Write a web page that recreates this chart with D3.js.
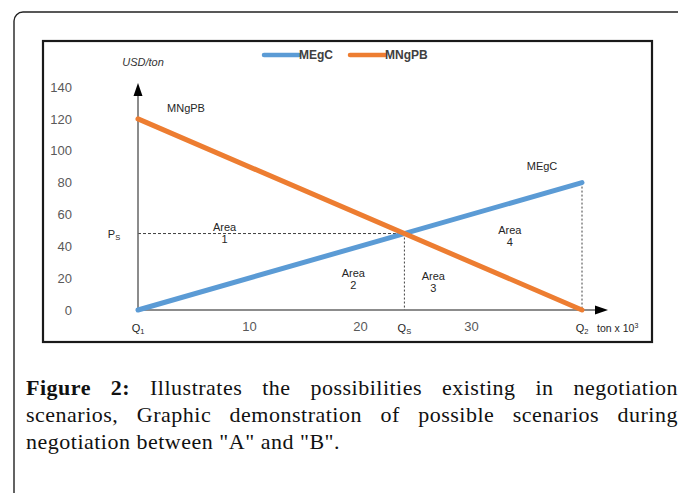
<!DOCTYPE html>
<html>
<head>
<meta charset="utf-8">
<script src="https://cdn.jsdelivr.net/npm/d3@7/dist/d3.min.js"></script>
<style>
  html, body { margin: 0; padding: 0; background: #fff; }
  svg { display: block; }
</style>
</head>
<body>
<svg id="chart" width="678" height="493"></svg>
<script>
// ---------- data ----------
const seriesNames = ["MEgC", "MNgPB"];
const seriesColors = ["#5b9bd5", "#ed7d31"];
const megcX = [0, 40];
const megcY = [0, 80];
const mngpbX = [0, 40];
const mngpbY = [120, 0];
const yTicks = [0, 20, 40, 60, 80, 100, 120, 140];
const xTicks = [10, 20, 30];
const yAxisTitle = "USD/ton";
const xAxisTitle = "ton x 10";
const areaNames = ["Area", "Area", "Area", "Area"];
const areaNums = ["1", "2", "3", "4"];
const areaAtX = [7.8, 19.4, 26.6, 33.5];
const areaAtY = [52, 23.2, 21.3, 50.2];
const captionLines = [
  ["Figure", "2:", "Illustrates", "the", "possibilities", "existing", "in", "negotiation"],
  ["scenarios,", "Graphic", "demonstration", "of", "possible", "scenarios", "during"],
  ["negotiation", "between", "\"A\"", "and", "\"B\"."]
];
const captionBoldWords = 2;

// ---------- layout ----------
const svg = d3.select("#chart");
const x = d3.scaleLinear().domain([0, 40]).range([138, 582]);
const y = d3.scaleLinear().domain([0, 140]).range([310, 87]);

// outer frame
svg.append("rect").attr("x", 14).attr("y", 12).attr("width", 720).attr("height", 540)
  .attr("rx", 9).attr("fill", "none").attr("stroke", "#222").attr("stroke-width", 1.4);

// inner chart box
svg.append("rect").attr("x", 43).attr("y", 41).attr("width", 609).attr("height", 301)
  .attr("fill", "#fff").attr("stroke", "#1a1a1a").attr("stroke-width", 2.2);

// legend
const legend = svg.append("g");
const legX = [264, 350];
seriesNames.forEach((n, i) => {
  legend.append("line").attr("x1", legX[i]).attr("x2", legX[i] + 35)
    .attr("y1", 55).attr("y2", 55).attr("stroke", seriesColors[i])
    .attr("stroke-width", 4.5).attr("stroke-linecap", "round");
  legend.append("text").attr("x", legX[i] + 35).attr("y", 55).attr("dy", "0.36em")
    .attr("font-family", "Liberation Sans, Arial, sans-serif").attr("font-size", 12)
    .attr("font-weight", "bold").attr("fill", "#404040").text(n);
});

// y-axis title
svg.append("text").attr("x", 143).attr("y", 66).attr("text-anchor", "middle")
  .attr("font-family", "Liberation Sans, Arial, sans-serif").attr("font-size", 11)
  .attr("font-style", "italic").attr("fill", "#333").text(yAxisTitle);

// y tick labels via axis
const yAxis = d3.axisLeft(y).tickValues(yTicks).tickSize(0).tickPadding(0);
const gy = svg.append("g").attr("transform", "translate(72,0)").call(yAxis);
gy.select(".domain").remove();
gy.selectAll("text").attr("font-family", "Liberation Sans, Arial, sans-serif")
  .attr("font-size", 13).attr("fill", "#595959");

// x tick labels via axis
const xAxis = d3.axisBottom(x).tickValues(xTicks).tickSize(0).tickPadding(0);
const gx = svg.append("g").attr("transform", "translate(0,322)").call(xAxis);
gx.select(".domain").remove();
gx.selectAll("text").attr("font-family", "Liberation Sans, Arial, sans-serif")
  .attr("font-size", 13).attr("fill", "#595959");

// intersection
const s1 = (megcY[1] - megcY[0]) / (megcX[1] - megcX[0]);
const s2 = (mngpbY[1] - mngpbY[0]) / (mngpbX[1] - mngpbX[0]);
const qs = (mngpbY[0] - megcY[0]) / (s1 - s2);
const ps = megcY[0] + s1 * qs;

// guide lines
svg.append("line").attr("x1", x(0)).attr("x2", x(qs)).attr("y1", y(ps)).attr("y2", y(ps))
  .attr("stroke", "#404040").attr("stroke-width", 1).attr("stroke-dasharray", "3,2");
svg.append("line").attr("x1", x(qs)).attr("x2", x(qs)).attr("y1", y(ps)).attr("y2", y(0))
  .attr("stroke", "#404040").attr("stroke-width", 1).attr("stroke-dasharray", "2,2");
svg.append("line").attr("x1", x(40)).attr("x2", x(40)).attr("y1", y(megcY[1])).attr("y2", y(0))
  .attr("stroke", "#404040").attr("stroke-width", 1).attr("stroke-dasharray", "2,2");

// axes with arrows
svg.append("line").attr("x1", x(0)).attr("x2", x(0)).attr("y1", y(0)).attr("y2", 94)
  .attr("stroke", "#666").attr("stroke-width", 1.5);
svg.append("path").attr("d", `M${x(0)},83 L${x(0) - 4.5},96 L${x(0) + 4.5},96 Z`).attr("fill", "#000");
svg.append("line").attr("x1", x(0)).attr("x2", 596).attr("y1", y(0)).attr("y2", y(0))
  .attr("stroke", "#666").attr("stroke-width", 1.5);
svg.append("path").attr("d", `M608,${y(0)} L595,${y(0) - 4.5} L595,${y(0) + 4.5} Z`).attr("fill", "#000");

// series lines
const lineGen = d3.line().x(d => x(d[0])).y(d => y(d[1]));
const seriesData = [
  megcX.map((v, i) => [v, megcY[i]]),
  mngpbX.map((v, i) => [v, mngpbY[i]])
];
seriesData.forEach((d, i) => {
  svg.append("path").datum(d).attr("d", lineGen).attr("fill", "none")
    .attr("stroke", seriesColors[i]).attr("stroke-width", 5).attr("stroke-linecap", "round");
});

// labels
const lab = (tx, ty, t, size, anchor) => svg.append("text").attr("x", tx).attr("y", ty)
  .attr("dy", "0.36em").attr("text-anchor", anchor || "middle")
  .attr("font-family", "Liberation Sans, Arial, sans-serif").attr("font-size", size || 11)
  .attr("fill", "#262626").text(t);

lab(x(0) + 48, 108, seriesNames[1]);
lab(x(40) - 40, 166, seriesNames[0]);

areaNames.forEach((n, i) => {
  lab(x(areaAtX[i]), y(areaAtY[i]), n);
  lab(x(areaAtX[i]), y(areaAtY[i]) + 12, areaNums[i]);
});

// subscripted labels
const subLab = (tx, ty, main, sub) => {
  const t = svg.append("text").attr("x", tx).attr("y", ty).attr("dy", "0.36em")
    .attr("text-anchor", "middle").attr("font-family", "Liberation Sans, Arial, sans-serif")
    .attr("font-size", 11).attr("fill", "#262626");
  t.append("tspan").text(main);
  t.append("tspan").attr("font-size", 7.5).attr("dy", 2.5).text(sub);
};
subLab(114, y(ps), "P", "S");
subLab(x(0), 328, "Q", "1");
subLab(x(qs), 328, "Q", "S");
subLab(x(40), 328, "Q", "2");

// x-axis title
const xt = svg.append("text").attr("x", 597).attr("y", 328).attr("dy", "0.36em")
  .attr("font-family", "Liberation Sans, Arial, sans-serif").attr("font-size", 10.5)
  .attr("fill", "#262626");
xt.append("tspan").text(xAxisTitle);
xt.append("tspan").attr("font-size", 7).attr("dy", -4).text("3");

// caption (justified)
const capLeft = 26, capRight = 678;
const capY = [395, 422, 449];
captionLines.forEach((words, li) => {
  const t = svg.append("text").attr("y", capY[li])
    .attr("font-family", "Liberation Serif, Times New Roman, serif").attr("font-size", 22)
    .attr("letter-spacing", "0.5px").attr("fill", "#111");
  const spans = words.map((w, wi) => t.append("tspan")
    .attr("font-weight", (li === 0 && wi < captionBoldWords) ? "bold" : "normal").text(w));
  const widths = spans.map(s => s.node().getComputedTextLength());
  const total = d3.sum(widths);
  const justify = li < captionLines.length - 1;
  const gap = justify ? (capRight - capLeft - total) / (words.length - 1) : 6;
  let cx = capLeft;
  spans.forEach((s, i) => { s.attr("x", cx); cx += widths[i] + gap; });
});
</script>
</body>
</html>
